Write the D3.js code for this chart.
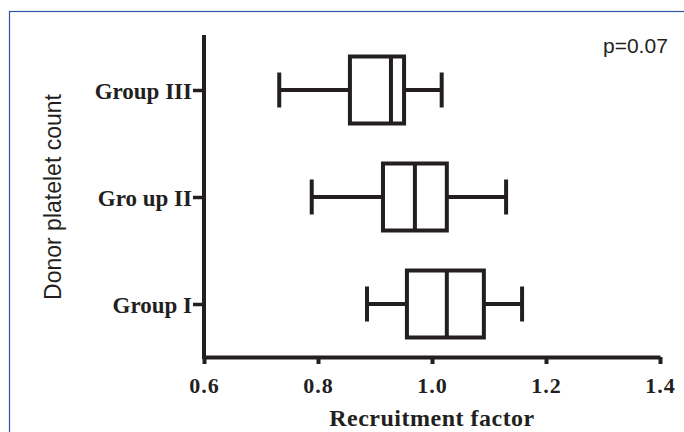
<!doctype html>
<html>
<head>
<title>Recruitment factor by donor platelet count</title>
<script src="https://d3js.org/d3.v7.min.js"></script>
<style>
  body { margin: 0; background: #fff; }
  svg { display: block; }
  .tick text { font-family: "Liberation Serif", "Times New Roman", serif; font-weight: bold; }
</style>
</head>
<body>
<script>
  // data
  var groups = ["Group I", "Gro up II", "Group III"];
  var whiskerLow  = [0.886, 0.789, 0.732];
  var q1          = [0.956, 0.914, 0.856];
  var median      = [1.026, 0.970, 0.928];
  var q3          = [1.091, 1.026, 0.951];
  var whiskerHigh = [1.158, 1.130, 1.017];
  var xTicks = [0.6, 0.8, 1.0, 1.2, 1.4];
  var pText = "p=0.07";

  var width = 684, height = 432;
  var ink = "#231f20";

  var svg = d3.select("body").append("svg").attr("width", width).attr("height", height);

  // frame
  svg.append("rect").attr("x", 9.5).attr("y", 11.5).attr("width", 690).attr("height", 440)
    .attr("fill", "none").attr("stroke", "#2f55a4").attr("stroke-width", 1.2);

  var xscale = d3.scaleLinear().domain([0.6, 1.4]).range([204, 660]);
  var yscale = d3.scalePoint().domain(groups).range([304, 90]);

  var boxH = 67, capH = 35;

  // x axis
  var xaxis = d3.axisBottom(xscale).tickValues(xTicks).tickFormat(d3.format(".1f"))
    .tickSize(7).tickSizeOuter(0).tickPadding(13);
  var gx = svg.append("g").attr("transform", "translate(0,357)").call(xaxis);
  gx.select(".domain").attr("stroke", ink).attr("stroke-width", 4);
  gx.selectAll(".tick line").attr("stroke", ink).attr("stroke-width", 4);
  gx.selectAll(".tick text").attr("fill", ink).attr("font-size", "22px").attr("letter-spacing", "1px");

  // y axis
  var yaxis = d3.axisLeft(yscale).tickSize(11).tickSizeOuter(0).tickPadding(1);
  var gy = svg.append("g").attr("transform", "translate(204,0)").call(yaxis);
  gy.select(".domain").attr("d", "M0,35V359").attr("stroke", ink).attr("stroke-width", 4);
  gy.selectAll(".tick line").attr("stroke", ink).attr("stroke-width", 3.5);
  gy.selectAll(".tick text").attr("fill", ink).attr("font-size", "23px").attr("dy", "0.36em");

  // boxes
  var rows = groups.map(function(g, i) {
    return {g: g, lo: whiskerLow[i], q1: q1[i], med: median[i], q3: q3[i], hi: whiskerHigh[i]};
  });
  var box = svg.append("g").selectAll("g").data(rows).enter().append("g")
    .attr("stroke", ink).attr("stroke-width", 4).attr("fill", "none");

  box.append("line")
    .attr("x1", function(d) { return xscale(d.lo); }).attr("x2", function(d) { return xscale(d.q1); })
    .attr("y1", function(d) { return yscale(d.g); }).attr("y2", function(d) { return yscale(d.g); });
  box.append("line")
    .attr("x1", function(d) { return xscale(d.q3); }).attr("x2", function(d) { return xscale(d.hi); })
    .attr("y1", function(d) { return yscale(d.g); }).attr("y2", function(d) { return yscale(d.g); });
  box.append("line")
    .attr("x1", function(d) { return xscale(d.lo); }).attr("x2", function(d) { return xscale(d.lo); })
    .attr("y1", function(d) { return yscale(d.g) - capH / 2; }).attr("y2", function(d) { return yscale(d.g) + capH / 2; });
  box.append("line")
    .attr("x1", function(d) { return xscale(d.hi); }).attr("x2", function(d) { return xscale(d.hi); })
    .attr("y1", function(d) { return yscale(d.g) - capH / 2; }).attr("y2", function(d) { return yscale(d.g) + capH / 2; });
  box.append("rect")
    .attr("x", function(d) { return xscale(d.q1); })
    .attr("width", function(d) { return xscale(d.q3) - xscale(d.q1); })
    .attr("y", function(d) { return yscale(d.g) - boxH / 2; })
    .attr("height", boxH);
  box.append("line")
    .attr("x1", function(d) { return xscale(d.med); }).attr("x2", function(d) { return xscale(d.med); })
    .attr("y1", function(d) { return yscale(d.g) - boxH / 2 - 1; }).attr("y2", function(d) { return yscale(d.g) + boxH / 2 + 1; });

  // titles
  svg.append("text")
    .attr("x", xscale(1.0)).attr("y", 426)
    .attr("text-anchor", "middle")
    .attr("font-family", "'Liberation Serif', 'Times New Roman', serif")
    .attr("font-weight", "bold").attr("font-size", "24px").attr("fill", ink)
    .attr("letter-spacing", "0.5px")
    .text("Recruitment factor");

  svg.append("text")
    .attr("transform", "translate(61,197) rotate(-90)")
    .attr("text-anchor", "middle")
    .attr("font-family", "'Liberation Sans', Arial, sans-serif")
    .attr("font-size", "23px").attr("fill", ink)
    .text("Donor platelet count");

  svg.append("text")
    .attr("x", 603).attr("y", 53)
    .attr("font-family", "'Liberation Sans', Arial, sans-serif")
    .attr("font-size", "21px").attr("fill", ink)
    .text(pText);
</script>
</body>
</html>
